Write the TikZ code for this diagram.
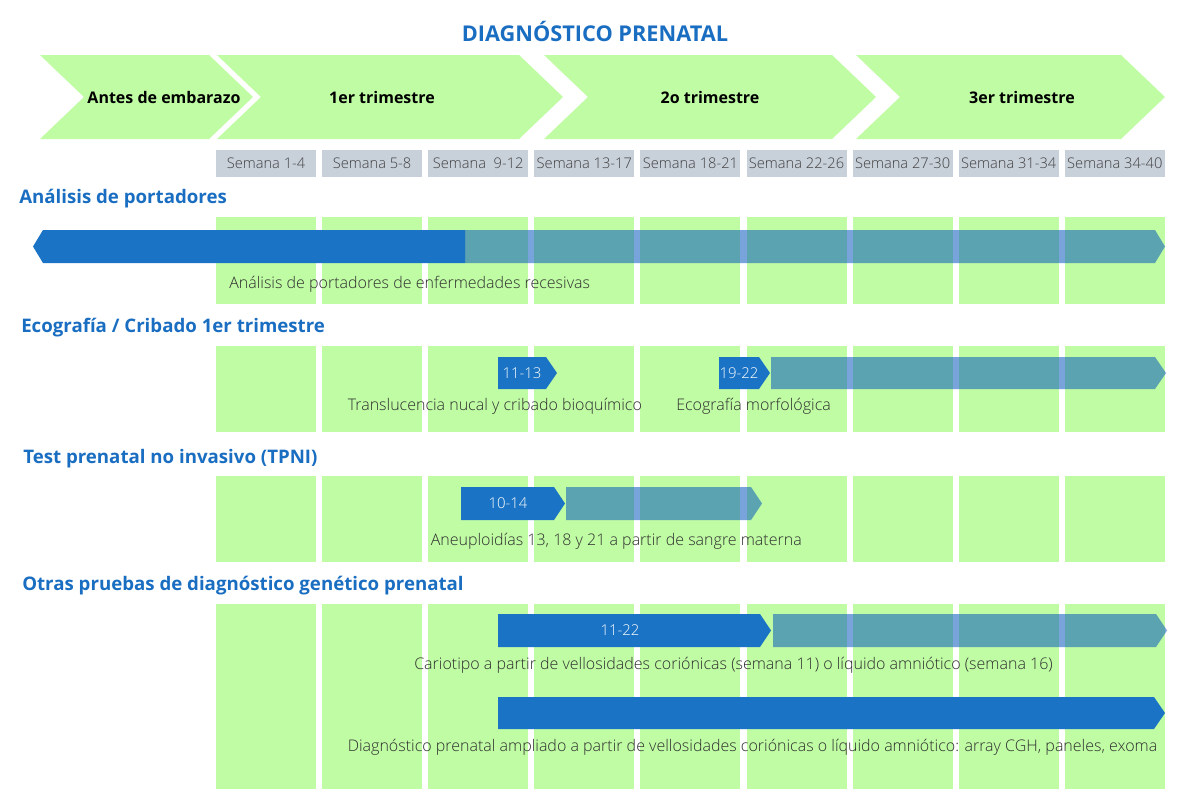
\documentclass[tikz,border=0pt]{standalone}
\usepackage{fontspec}
\setmainfont{Open Sans}
\IfFontExistsTF{Open Sans Light}{\newfontfamily\lightf{Open Sans Light}}{\newfontfamily\lightf{Open Sans}}
\definecolor{dblue}{HTML}{1A73C4}
\definecolor{tblue}{HTML}{1A6EC2}
\definecolor{lgreen}{HTML}{C0FCA4}
\definecolor{wgray}{HTML}{C8D0DA}
\definecolor{txt}{HTML}{2E2E2E}
\definecolor{tealbar}{HTML}{0A5ABE}
\begin{document}
\begin{tikzpicture}[x=0.75pt,y=-0.75pt,
  titlestyle/.style={font=\bfseries\fontsize{16.3}{19}\selectfont, text=tblue, inner sep=0},
  header/.style={font=\bfseries\fontsize{14}{16}\selectfont, text=tblue, anchor=west, inner sep=0},
  chev/.style={fill=lgreen},
  chevlabel/.style={font=\bfseries\fontsize{12}{14}\selectfont, inner sep=0},
  weekbox/.style={fill=wgray, minimum width=75pt, minimum height=20.25pt, inner sep=0, font=\lightf\fontsize{11}{13}\selectfont, text=black!75},
  colbox/.style={fill=lgreen},
  darkbar/.style={fill=dblue},
  lightbar/.style={fill=tealbar, fill opacity=0.55},
  desc/.style={font=\lightf\fontsize{12}{14}\selectfont, text=txt, anchor=west, inner sep=0},
  barlabel/.style={font=\lightf\fontsize{11.2}{13}\selectfont, text=white, inner sep=0},
]
\useasboundingbox (0,0) rectangle (1200,800);
\fill[white] (0,0) rectangle (1200,800);

% title
\node[titlestyle] (title) at (595,31) {DIAGNÓSTICO PRENATAL};

% chevrons
\fill[chev] (40,55) -- (209,55) -- (253,97) -- (209,139) -- (40,139) -- (84,97) -- cycle;
\fill[chev] (217,55) -- (519,55) -- (563,97) -- (519,139) -- (217,139) -- (261,97) -- cycle;
\fill[chev] (544,55) -- (832,55) -- (876,97) -- (832,139) -- (544,139) -- (588,97) -- cycle;
\fill[chev] (856,55) -- (1121,55) -- (1165,97) -- (1121,139) -- (856,139) -- (900,97) -- cycle;
\node[chevlabel] (c0) at (164,97) {Antes de embarazo};
\node[chevlabel] (c1) at (382,97) {1er trimestre};
\node[chevlabel] (c2) at (710,97) {2o trimestre};
\node[chevlabel] (c3) at (1022,97) {3er trimestre};

% week boxes
\foreach \lab [count=\i from 0] in {Semana 1-4,Semana 5-8,Semana~ 9-12,Semana 13-17,Semana 18-21,Semana 22-26,Semana 27-30,Semana 31-34,Semana 34-40}
  \node[weekbox] (w\i) at ({266+106.1*\i},163.5) {\lab};

% columns
\foreach \ya/\yb in {217/304,346/432,476/562,604/789}
  \foreach \i in {0,...,8}
    \fill[colbox] ({216+106.1*\i},\ya) rectangle ++(100,{\yb-\ya});

% section headers
\node[header] (h1) at (19,199) {Análisis de portadores};
\node[header] (h2) at (21,328) {Ecografía / Cribado 1er trimestre};
\node[header] (h3) at (23,459) {Test prenatal no invasivo (TPNI)};
\node[header] (h4) at (22,586) {Otras pruebas de diagnóstico genético prenatal};

% section 1
\fill[darkbar] (465,230) -- (43,230) -- (33,246.5) -- (43,263) -- (465,263) -- cycle;
\fill[lightbar] (465,230) -- (1155,230) -- (1165,246.5) -- (1155,263) -- (465,263) -- cycle;
\node[desc] (d1) at (229,284) {Análisis de portadores de enfermedades recesivas};

% section 2
\fill[darkbar] (498,357) -- (546,357) -- (557,373) -- (546,389) -- (498,389) -- cycle;
\node[barlabel] (b1) at (522,373) {11-13};
\fill[darkbar] (719,357) -- (759,357) -- (770,373) -- (759,389) -- (719,389) -- cycle;
\node[barlabel] (b2) at (739,373) {19-22};
\fill[lightbar] (771,357) -- (1155,357) -- (1166,373) -- (1155,389) -- (771,389) -- cycle;
\node[desc] (d2) at (347.5,406) {Translucencia nucal y cribado bioquímico};
\node[desc] (d3) at (676,406) {Ecografía morfológica};

% section 3
\fill[darkbar] (461,487) -- (554,487) -- (565,503.5) -- (554,520) -- (461,520) -- cycle;
\node[barlabel] (b3) at (508,503.5) {10-14};
\fill[lightbar] (566,487) -- (751,487) -- (762,503.5) -- (751,520) -- (566,520) -- cycle;
\node[desc] (d4) at (430.5,541) {Aneuploidías 13, 18 y 21 a partir de sangre materna};

% section 4
\fill[darkbar] (498,614) -- (760,614) -- (771,630.5) -- (760,647) -- (498,647) -- cycle;
\node[barlabel] (b4) at (620,630.5) {11-22};
\fill[lightbar] (773,614) -- (1156,614) -- (1167,630.5) -- (1156,647) -- (773,647) -- cycle;
\node[desc] (d5) at (414,665.5) {Cariotipo a partir de vellosidades coriónicas (semana 11) o líquido amniótico (semana 16)};
\fill[darkbar] (498,697) -- (1154,697) -- (1165,713) -- (1154,729) -- (498,729) -- cycle;
\node[desc] (d6) at (347.5,747) {Diagnóstico prenatal ampliado a partir de vellosidades coriónicas o líquido amniótico: array CGH, paneles, exoma};
\end{tikzpicture}
\end{document}
